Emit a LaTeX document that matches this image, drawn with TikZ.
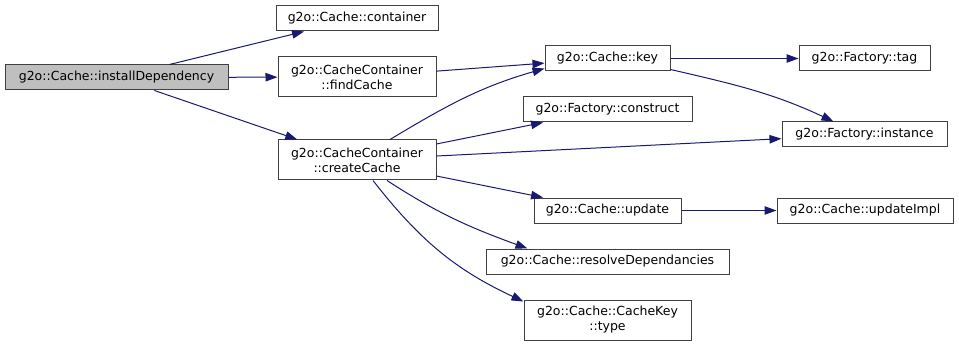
\documentclass[tikz,border=0pt]{standalone}
\usepackage{fontspec}
\setmainfont{DejaVu Sans}
\usepackage{xcolor}
\usetikzlibrary{arrows.meta}

\definecolor{edgeblue}{HTML}{191970}
\definecolor{rootgray}{HTML}{BFBFBF}

\begin{document}
\begin{tikzpicture}[x=1pt, y=1pt]

\tikzstyle{every node} = [rectangle, draw=black!75, line width=1pt, fill=white, inner sep=0pt, minimum height=25pt, align=center, font=\fontsize{12.5}{15}\selectfont]
\tikzstyle{calls} = [draw=edgeblue, line width=1pt, -{Triangle[length=12pt, width=8.5pt]}]

\useasboundingbox (0,0) rectangle (959,346);

\node[fill=rootgray, minimum width=223pt] (i) at (116.5,268.5) {g2o::Cache::installDependency};

\node[minimum width=162pt] (c) at (357,327.5) {g2o::Cache::container};
\node[minimum width=158pt, minimum height=40pt] (f) at (357,269) {g2o::CacheContainer\\::findCache};
\node[minimum width=158pt, minimum height=40pt] (cc) at (357,186) {g2o::CacheContainer\\::createCache};

\node[minimum width=125pt] (k) at (607.5,287.5) {g2o::Cache::key};
\node[minimum width=169pt] (fc) at (607.5,236.5) {g2o::Factory::construct};
\node[minimum width=147pt] (u) at (607.5,135.5) {g2o::Cache::update};
\node[minimum width=243pt] (r) at (607.5,84.5) {g2o::Cache::resolveDependancies};
\node[minimum width=167pt, minimum height=40pt] (t) at (607.5,26) {g2o::Cache::CacheKey\\::type};

\node[minimum width=131pt] (ft) at (864.5,287.5) {g2o::Factory::tag};
\node[minimum width=165pt] (fi) at (864.5,211.5) {g2o::Factory::instance};
\node[minimum width=176pt] (ui) at (865,135.5) {g2o::Cache::updateImpl};


\draw[calls] (i) -- (c);
\draw[calls] (i) -- (f);
\draw[calls] (i) -- (cc);
\draw[calls] (f) -- (k);
\draw[calls] ([xshift=33pt]cc.north) to[out=31, in=196] ([yshift=-10pt]k.west);
\draw[calls] (cc) -- (fc);
\draw[calls] (cc) -- (fi);
\draw[calls] (cc) -- (u);
\draw[calls] ([xshift=30pt]cc.south) to[out=-33, in=160] ([xshift=-80pt]r.north);
\draw[calls] ([xshift=16pt]cc.south) to[out=-52, in=155] ([yshift=-2pt]t.north west);
\draw[calls] (k) -- (ft);
\draw[calls] ([yshift=-11pt]k.east) to[out=-13, in=155] ([xshift=-31pt]fi.north);
\draw[calls] (u) -- (ui);
\end{tikzpicture}
\end{document}
